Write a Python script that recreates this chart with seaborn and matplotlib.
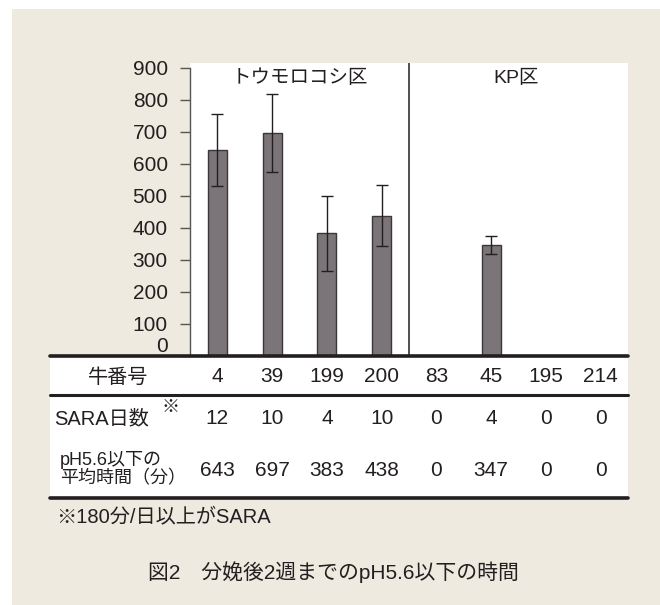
import matplotlib
matplotlib.use("Agg")
import matplotlib.pyplot as plt
import matplotlib.transforms as mtransforms
from matplotlib.patches import Rectangle
from matplotlib.lines import Line2D
import seaborn as sns
import pandas as pd

# --- data -------------------------------------------------------------
cow_ids = ["4", "39", "199", "200", "83", "45", "195", "214"]
sara_days = [12, 10, 4, 10, 0, 4, 0, 0]
mean_minutes = [643, 697, 383, 438, 0, 347, 0, 0]
sd_minutes = [112, 122, 116, 96, 0, 28, 0, 0]
group_labels = ["トウモロコシ区", "KP区"]
y_ticks = [0, 100, 200, 300, 400, 500, 600, 700, 800, 900]

row_titles = ["牛番号", "SARA日数", "pH5.6以下の\n平均時間（分）"]
footnote = "※180分/日以上がSARA"
caption = "図2　分娩後2週までのpH5.6以下の時間"

# --- style --------------------------------------------------------------
sns.set_theme(style="white")
plt.rcParams["font.family"] = ["Liberation Sans", "Noto Sans CJK JP", "DejaVu Sans"]

BEIGE = "#EEEAE0"
INK = "#231f20"
BAR = "#7b7479"

W, H = 660, 605
fig = plt.figure(figsize=(W / 100, H / 100), dpi=100, facecolor="white")


def fx(px):
    return px / W


def fy(py):
    return 1 - py / H


# beige panel and white table area (behind everything else)
fig.patches.append(Rectangle((fx(12), 0), 1 - fx(12), fy(9), transform=fig.transFigure,
                             facecolor=BEIGE, edgecolor="none", zorder=-10))
fig.patches.append(Rectangle((fx(50), fy(498)), fx(628 - 50), (498 - 356) / H,
                             transform=fig.transFigure, facecolor="white",
                             edgecolor="none", zorder=-9))

ax = fig.add_axes([fx(190), fy(356), fx(628 - 190), (356 - 63) / H])
ax.set_facecolor("white")

df = pd.DataFrame({"cow": cow_ids, "minutes": mean_minutes, "sd": sd_minutes})
sns.barplot(data=df, x="cow", y="minutes", order=cow_ids, color=BAR,
            width=0.35, edgecolor="#3b3739", linewidth=1.0, saturation=1,
            errorbar=None, ax=ax)

# error bars only where there is a bar
xs = [i for i, v in enumerate(mean_minutes) if v > 0]
ax.errorbar(xs, [mean_minutes[i] for i in xs], yerr=[sd_minutes[i] for i in xs],
            fmt="none", ecolor=INK, elinewidth=1.0, capsize=4, capthick=1.0, zorder=5)

ax.set_xlim(-0.5, len(cow_ids) - 0.5)
ax.set_ylim(0, 915)
ax.set_yticks(y_ticks)
ax.set_yticklabels([str(t) for t in y_ticks], fontsize=15, color=INK)
ax.set_xticks([])
ax.set_xlabel("")
ax.set_ylabel("")
ax.tick_params(axis="y", length=7, width=1, color="#555555", pad=9, left=True)
for lab in ax.get_yticklabels():
    if lab.get_text() == "0":
        lab.set_verticalalignment("bottom")

for side in ["top", "right", "bottom"]:
    ax.spines[side].set_visible(False)
ax.spines["left"].set_color("#555555")
ax.spines["left"].set_linewidth(1)
ax.spines["left"].set_bounds(0, 900)

# group divider and group names
ax.axvline(3.5, color=INK, lw=1.1)
ax.text(1.5, 868, group_labels[0], ha="center", va="center", fontsize=14, color=INK)
ax.text(5.45, 868, group_labels[1], ha="center", va="center", fontsize=14, color=INK)

# --- table below the chart --------------------------------------------
for py, lw in [(356, 2.6), (395, 2.2), (498, 2.6)]:
    fig.add_artist(Line2D([fx(50), fx(628)], [fy(py), fy(py)], transform=fig.transFigure,
                          color=INK, lw=lw, zorder=3))

col_tr = mtransforms.blended_transform_factory(ax.transData, fig.transFigure)
for i, cid in enumerate(cow_ids):
    fig.text(i, fy(377), cid, transform=col_tr, ha="center", va="center",
             fontsize=15, color=INK)
    fig.text(i, fy(419), str(sara_days[i]), transform=col_tr, ha="center", va="center",
             fontsize=15, color=INK)
    fig.text(i, fy(471), str(mean_minutes[i]), transform=col_tr, ha="center", va="center",
             fontsize=15, color=INK)

fig.text(fx(118), fy(377), row_titles[0], ha="center", va="center", fontsize=14.5, color=INK)
fig.text(fx(54), fy(419), row_titles[1], ha="left", va="center", fontsize=14.5, color=INK)
fig.text(fx(170), fy(407), "※", ha="center", va="center", fontsize=13, color=INK)
fig.text(fx(60), fy(469), row_titles[2], ha="left", va="center", fontsize=13,
         color=INK, linespacing=1.05)

fig.text(fx(56), fy(517), footnote, ha="left", va="center", fontsize=14.5, color=INK)
fig.text(fx(333), fy(572), caption, ha="center", va="center", fontsize=15, color=INK)

fig.savefig("out.png", dpi=100, facecolor=fig.get_facecolor())
